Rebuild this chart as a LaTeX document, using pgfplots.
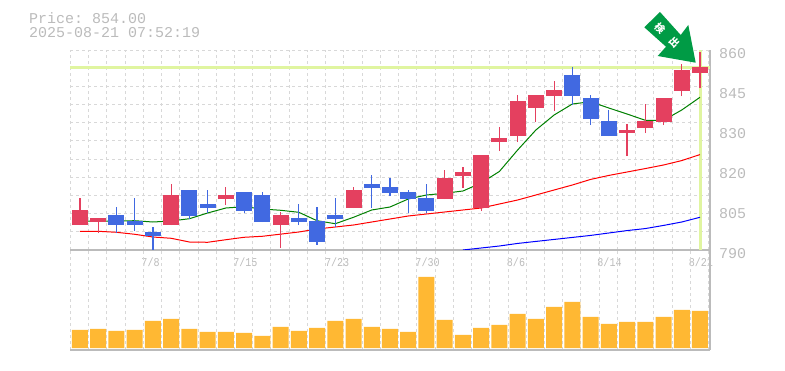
\documentclass[border=0pt]{standalone}
\usepackage{fontspec}
\setmonofont{Liberation Mono}
\newfontfamily\cjk{Noto Sans CJK JP}
\newfontfamily\xtickfont[FakeStretch=0.84]{Liberation Mono}
\usepackage{pgfplots}
\usepackage{pgfplotstable}
\pgfplotsset{compat=1.18}
\definecolor{cred}{HTML}{E4405F}
\definecolor{cblue}{HTML}{4169E1}
\definecolor{cvol}{HTML}{FFB833}
\definecolor{clime}{HTML}{E0F5A0}
\definecolor{cgrid}{HTML}{D8D8D8}
\definecolor{caxis}{HTML}{BBBBBB}
\definecolor{carrow}{HTML}{009B45}
\pgfplotstableread{
i bl bh wl wh
0 798.75 804 798.75 808.2
1 799.8 801.2 795.95 801.2
5 798.75 809.25 798.75 813.1
8 807.85 809.25 805.75 812.05
11 798.75 802.25 790.7 803.3
15 804.7 811 804.7 812.05
20 807.85 815.2 807.85 818
21 815.9 817.3 811.7 819.05
22 804.7 823.25 803.65 823.25
23 827.8 829.2 824.65 833.05
24 829.9 842.15 827.8 844.25
25 839.7 844.25 834.8 844.25
26 843.9 846 838.65 849.15
30 830.95 832 822.9 834.1
31 832.7 835.15 830.95 841.1
32 834.8 843.2 833.75 843.2
33 845.65 853 843.9 855.1
34 851.95 854.05 846.7 859.3
}\redt
\pgfplotstableread{
i bl bh wl wh
2 798.75 802.25 795.95 805.05
3 798.75 800.15 796.65 808.2
4 794.9 796.3 789.65 798.05
6 801.9 811 800.85 811
7 804.7 806.1 802.95 811
9 803.65 810.3 802.95 810.3
10 799.8 809.25 799.8 810.3
12 799.8 801.2 798.75 806.1
13 792.8 800.15 791.75 805.05
14 800.85 802.25 798.05 808.2
16 811.7 813.1 804.7 816.25
17 809.95 812.05 808.9 815.2
18 807.85 810.3 802.95 811
19 803.65 808.2 802.95 813.1
27 843.9 851.25 840.75 854.05
28 835.85 843.2 833.75 844.25
29 829.9 835.15 829.9 839
}\bluet
\pgfplotstableread{
i v
0 18
1 19
2 17
3 18
4 27
5 29
6 19
7 16
8 16
9 15
10 12
11 21
12 17
13 20
14 27
15 29
16 21
17 19
18 16
19 71
20 28
21 13
22 20
23 23
24 34
25 29
26 41
27 46
28 31
29 24
30 26
31 26
32 31
33 38
34 37
}\volt
\pgfplotsset{
  common/.style={
    scale only axis, width=640pt, xmin=-0.548, xmax=34.549,
    axis x line=bottom, axis y line=right,
    axis line style={-, draw=caxis, line width=1.4pt},
    major tick length=0pt, xtick={-0.53,0.47,...,34.47}, xticklabels={},
    xmajorgrids, grid style={draw=cgrid, line width=0.9pt, dash pattern=on 3pt off 3pt},
    tick style={draw=none},
  },
}
\begin{document}
\begin{tikzpicture}[x=1pt,y=1pt]
\useasboundingbox (0,0) rectangle (785,370);
\node[anchor=west,inner sep=0pt,text=caxis,font=\ttfamily\fontsize{15}{15}\selectfont] at (29,352) {Price: 854.00};
\node[anchor=west,inner sep=0pt,text=caxis,font=\ttfamily\fontsize{15}{15}\selectfont] at (29,337) {2025-08-21 07:52:19};
\begin{axis}[common, at={(70pt,120pt)}, anchor=south west, height=200pt,
  ymin=790, ymax=860, ymajorgrids,
  ytick={790,796.364,802.727,809.091,815.455,821.818,828.182,834.545,840.909,847.273,853.636,860},
  yticklabels={},
  extra y ticks={790,804,818,832,846,860},
  extra y tick labels={790,805,820,830,845,860},
  extra y tick style={ymajorgrids=false, yticklabel style={anchor=west, xshift=9pt, yshift=-4pt, inner sep=0pt, text=caxis, font=\ttfamily\fontsize{15}{15}\selectfont}},
  extra x ticks={3.87,9.07,14.1,19.06,23.91,29.04,34.05},
  extra x tick labels={7/8,7/15,7/23,7/30,8/6,8/14,8/21},
  extra x tick style={xmajorgrids=false, xticklabel style={anchor=north, yshift=-8pt, inner sep=0pt, text=caxis, font=\xtickfont\fontsize{12}{12}\selectfont}},
]
\addplot[clime, line width=3pt, forget plot] coordinates {(-0.548,854) (34.549,854)};
\addplot[clime, line width=3.3pt, forget plot] coordinates {(34.03,790) (34.03,860)};
\addplot[color=green!50!black, line width=1pt, forget plot] coordinates {
(0,800.15)(1,800.15)(2,800.15)(3,800.25)(4,799.8)(5,800.15)(6,800.95)(7,802.95)(8,804.7)(9,805.15)(10,804.35)(11,803.9)(12,803.2)(13,800.25)(14,799.2)(15,801.45)(16,804)(17,805.05)(18,807.85)(19,809.25)(20,809.85)(21,810.65)(22,813.45)(23,817.5)(24,825)(25,832)(26,837.25)(27,841.1)(28,841.9)(29,839.7)(30,837.6)(31,835.4)(32,835.4)(33,839)(34,843.45)};
\addplot[color=red, line width=1pt, forget plot] coordinates {
(0,796.55)(1,796.55)(2,796.2)(3,795.5)(4,794.55)(5,794.1)(6,792.8)(7,792.7)(8,793.6)(9,794.45)(10,794.8)(11,795.55)(12,796.3)(13,797.35)(14,798.05)(15,798.75)(16,799.8)(17,800.85)(18,801.9)(19,802.6)(20,803.3)(21,804)(22,804.7)(23,806.1)(24,807.5)(25,809.25)(26,811)(27,812.75)(28,814.7)(29,816.1)(30,817.3)(31,818.5)(32,819.75)(33,821.3)(34,823.4)};
\addplot[color=blue, line width=1pt, forget plot] coordinates {
(21,790)(22,790.7)(23,791.4)(24,792.3)(25,793)(26,793.7)(27,794.4)(28,795.1)(29,795.95)(30,796.8)(31,797.5)(32,798.6)(33,799.8)(34,801.45)};
% wicks and bodies
\addplot[draw=none, mark=none, forget plot, error bars/.cd, y dir=plus, y explicit, error mark=none, error bar style={solid, draw=cred, line width=1.2pt}] table[x=i, y=wl, y error expr=\thisrow{wh}-\thisrow{wl}] {\redt};
\addplot[draw=none, mark=none, forget plot, error bars/.cd, y dir=plus, y explicit, error mark=none, error bar style={solid, draw=cred, line width=16pt}] table[x=i, y=bl, y error expr=\thisrow{bh}-\thisrow{bl}] {\redt};
\addplot[draw=none, mark=none, forget plot, error bars/.cd, y dir=plus, y explicit, error mark=none, error bar style={solid, draw=cblue, line width=1.2pt}] table[x=i, y=wl, y error expr=\thisrow{wh}-\thisrow{wl}] {\bluet};
\addplot[draw=none, mark=none, forget plot, error bars/.cd, y dir=plus, y explicit, error mark=none, error bar style={solid, draw=cblue, line width=16pt}] table[x=i, y=bl, y error expr=\thisrow{bh}-\thisrow{bl}] {\bluet};
\end{axis}
\begin{axis}[common, at={(70pt,20pt)}, anchor=south west, height=100pt,
  ymin=-2, ymax=98, ytick=\empty]
\addplot[ybar, bar width=16pt, bar shift=0pt, fill=cvol, draw=none, forget plot] table[x=i, y=v] {\volt};
\end{axis}
% arrow badge
\fill[carrow] (660,358) -- (680.7,335) -- (688.3,345) -- (695.7,307.3) -- (657.7,314) -- (666,323.3) -- (644.3,342.7) -- cycle;
\node[rotate=-45,text=white,font=\cjk\bfseries\fontsize{10}{10}\selectfont,inner sep=0pt] at (659.7,342) {検};
\node[rotate=-45,text=white,font=\cjk\bfseries\fontsize{10}{10}\selectfont,inner sep=0pt] at (674.2,327.5) {出};
\end{tikzpicture}
\end{document}
